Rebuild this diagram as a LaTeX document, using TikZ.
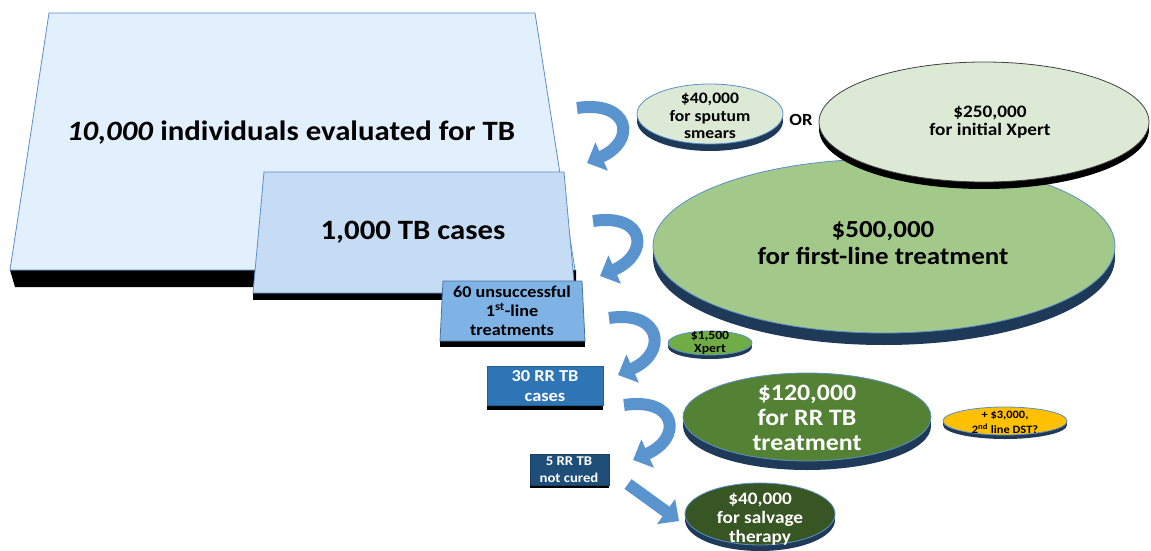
\documentclass[tikz,border=0pt]{standalone}
\usepackage{fontspec}
\setmainfont[FakeStretch=1.1]{Carlito}
\usetikzlibrary{arrows.meta}

\definecolor{boxA}{HTML}{E2EFFC}
\definecolor{boxB}{HTML}{C5DCF4}
\definecolor{boxC}{HTML}{7FB3E6}
\definecolor{boxD}{HTML}{2E75B6}
\definecolor{boxE}{HTML}{1F4E79}
\definecolor{edgeblue}{HTML}{5B8FC7}
\definecolor{paleg}{HTML}{DCE9D5}
\definecolor{midg}{HTML}{A3C98A}
\definecolor{xpertg}{HTML}{70AD47}
\definecolor{rrg}{HTML}{548235}
\definecolor{salvg}{HTML}{375623}
\definecolor{gold}{HTML}{FFC000}
\definecolor{rimnavy}{HTML}{1F3A58}
\definecolor{arrowblue}{HTML}{5A94CF}

% A flat 3-D disc: centre x, centre y, x radius, y radius, depth, face, rim, edge
\newcommand\tdisc[8]{%
  \fill[#7] (#1,#2+#5) ellipse[x radius=#3, y radius=#4];
  \fill[#7] (#1-#3,#2) rectangle (#1+#3,#2+#5);
  \draw[#8, fill=#6, line width=0.8pt] (#1,#2) ellipse[x radius=#3, y radius=#4];
}
\newcommand\fsz[2]{\fontsize{#1}{#2}\selectfont\bfseries}

\begin{document}
\begin{tikzpicture}[x=1pt, y=-1pt,
  txt/.style={align=center, inner sep=0pt, text=black},
  flow/.style={draw=arrowblue, line width=12pt, -{Triangle[width=30pt,length=16pt]}},
]
\useasboundingbox (0,0) rectangle (1151,551);

% ---- stacked population slabs ----
\fill (10,270) -- (576,270) -- (576,287) -- (15,287) -- cycle;
\draw[edgeblue, fill=boxA, line width=0.8pt] (49,13) -- (535,13) -- (575,270) -- (10,270) -- cycle;

\fill (253,293) rectangle (576,300);
\draw[edgeblue, fill=boxB, line width=0.8pt] (264,172) -- (564,172) -- (575,293) -- (253,293) -- cycle;

\fill (440,341) rectangle (585,347);
\draw[edgeblue!80!black, fill=boxC, line width=0.8pt] (443,281) -- (582,281) -- (585,341) -- (440,341) -- cycle;

\fill (487,405) rectangle (603,410);
\draw[boxD!80!black, fill=boxD, line width=0.6pt] (487,366) rectangle (603,405);

\fill (530,485) rectangle (609,488);
\draw[boxE!80!black, fill=boxE, line width=0.6pt] (530,454) rectangle (609,485);

% ---- cost discs ----
\tdisc{884}{246}{231}{87}{12}{midg}{rimnavy}{edgeblue}
\tdisc{984}{122}{165}{60}{7}{paleg}{black}{black!75}
\tdisc{710}{114}{73}{30}{7}{paleg}{rimnavy}{edgeblue}
\tdisc{710}{343}{42}{12}{4}{xpertg}{rimnavy}{edgeblue}
\tdisc{807}{417}{124}{44}{9}{rrg}{rimnavy}{edgeblue}
\tdisc{1005}{421}{62}{14}{4}{gold}{rimnavy}{edgeblue}
\tdisc{760}{514}{75}{31}{6}{salvg}{rimnavy}{edgeblue}

% ---- labels ----
\node[txt, font=\fsz{28}{32}] (n10k) at (291,133)
  {\textit{10,000} individuals evaluated for TB};
\node[txt, font=\fsz{28}{32}] (n1k) at (413,232) {1,000 TB cases};
\node[txt, font=\fsz{16.5}{19}] (n60) at (512,311)
  {60 unsuccessful\\1\textsuperscript{st}-line\\treatments};
\node[txt, text=white, font=\fsz{16.7}{20}] (n30) at (545,386) {30 RR TB\\cases};
\node[txt, text=white, font=\fsz{13.4}{17}] (n5) at (569,470) {5 RR TB\\not cured};

\node[txt, font=\fsz{16}{17.5}] (smear) at (710,116) {\$40,000\\for sputum\\smears};
\node[txt, font=\fsz{17}{19}] (orword) at (801,120) {OR};
\node[txt, font=\fsz{17.5}{18.5}] (xpert) at (990,122) {\$250,000\\for initial Xpert};
\node[txt, font=\fsz{24.5}{27}] (first) at (883,243) {\$500,000\\for first-line treatment};
\node[txt, font=\fsz{12.5}{13}] (xp15) at (710,343) {\$1,500\\Xpert};
\node[txt, text=white, font=\fsz{23.5}{25}] (rrtx) at (807,418) {\$120,000\\for RR TB\\treatment};
\node[txt, font=\fsz{11.3}{15}] (dst) at (1005,422) {+ \$3,000,\\2\textsuperscript{nd} line DST?};
\node[txt, text=white, font=\fsz{17.5}{19}] (salv) at (760,519) {\$40,000\\for salvage\\therapy};

% ---- flow arrows ----
\coordinate (a1s) at (577,108); \coordinate (a1e) at (587,163);
\coordinate (a2s) at (593,221); \coordinate (a2e) at (600,276);
\coordinate (a3s) at (609,318); \coordinate (a3e) at (618,375);
\coordinate (a4s) at (624,405); \coordinate (a4e) at (633,460);
\coordinate (a5s) at (628,484); \coordinate (a5e) at (679,521);

\draw[flow] (a1s) .. controls +(53,-8) and +(50,-22) .. (a1e);
\draw[flow] (a2s) .. controls +(53,-8) and +(50,-22) .. (a2e);
\draw[flow] (a3s) .. controls +(53,-8) and +(50,-22) .. (a3e);
\draw[flow] (a4s) .. controls +(53,-8) and +(50,-22) .. (a4e);
\draw[flow] (a5s) -- (a5e);
\end{tikzpicture}
\end{document}
